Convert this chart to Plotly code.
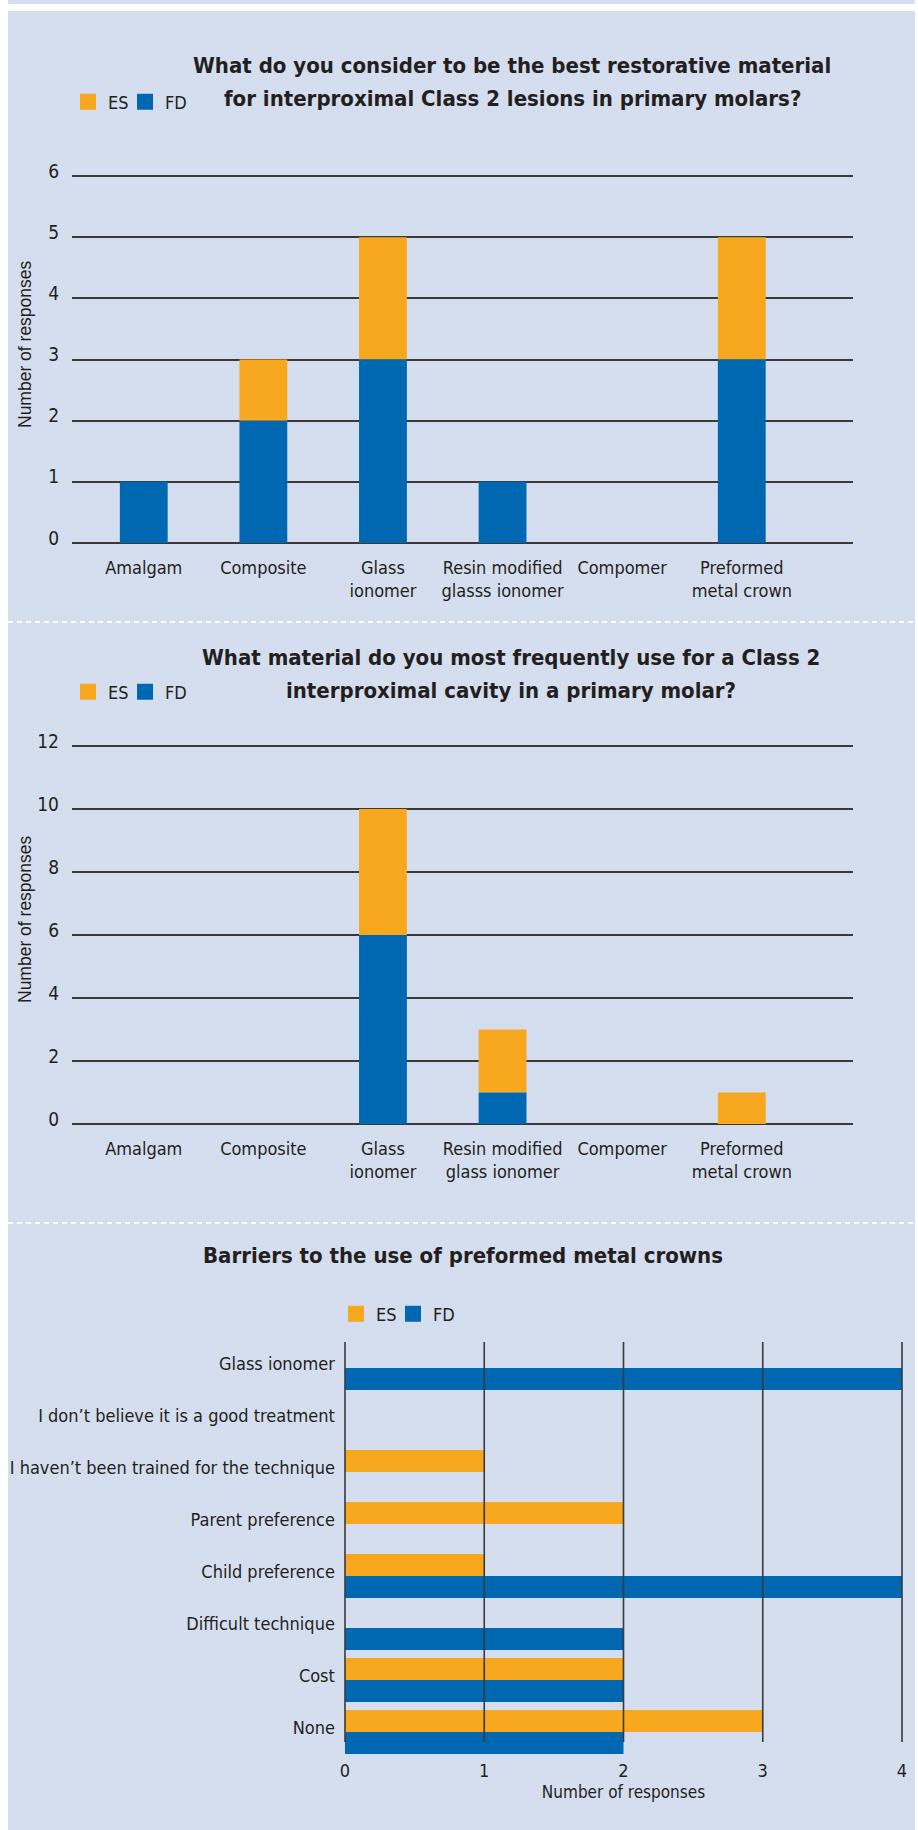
import plotly.graph_objects as go

# ---------------- data ----------------
materials_best = ["Amalgam", "Composite", "Glass<br>ionomer", "Resin modified<br>glasss ionomer",
                  "Compomer", "Preformed<br>metal crown"]
es_best = [0, 1, 2, 0, 0, 2]
fd_best = [1, 2, 3, 1, 0, 3]

materials_freq = ["Amalgam", "Composite", "Glass<br>ionomer", "Resin modified<br>glass ionomer",
                  "Compomer", "Preformed<br>metal crown"]
es_freq = [0, 0, 4, 2, 0, 1]
fd_freq = [0, 0, 6, 1, 0, 0]

barriers = ["Glass ionomer", "I don\u2019t believe it is a good treatment",
            "I haven\u2019t been trained for the technique", "Parent preference",
            "Child preference", "Difficult technique", "Cost", "None"]
es_barriers = [0, 0, 1, 2, 1, 0, 2, 3]
fd_barriers = [4, 0, 0, 0, 4, 2, 2, 2]
barrier_ticks = [0, 1, 2, 3, 4]

series_names = ["ES", "FD"]

title_best = ["What do you consider to be the best restorative material",
              "for interproximal Class 2 lesions in primary molars?"]
title_freq = ["What material do you most frequently use for a Class 2",
              "interproximal cavity in a primary molar?"]
title_barriers = "Barriers to the use of preformed metal crowns"

# ---------------- styling ----------------
W, H = 918, 1830
def fx(x): return x / W
def fy(y): return 1 - y / H

ORANGE = "#F7A81E"
BLUE = "#0068B0"
PANEL = "#D5DEEF"
GRID = "#3A3A3A"
TXT = "#231F20"
NARROW = "DejaVu Sans Condensed, Liberation Sans Narrow, sans-serif"
REG = "Liberation Sans, Arial, sans-serif"
COLORS = [ORANGE, BLUE]

fig = go.Figure()

# chart 1 (stacked via base)
fig.add_trace(go.Bar(x=materials_best, y=es_best, base=fd_best, name="ES", marker_color=ORANGE,
                     width=0.4, xaxis="x", yaxis="y", showlegend=False))
fig.add_trace(go.Bar(x=materials_best, y=fd_best, name="FD", marker_color=BLUE,
                     width=0.4, xaxis="x", yaxis="y", showlegend=False))
# chart 2
fig.add_trace(go.Bar(x=materials_freq, y=es_freq, base=fd_freq, name="ES", marker_color=ORANGE,
                     width=0.4, xaxis="x2", yaxis="y2", showlegend=False))
fig.add_trace(go.Bar(x=materials_freq, y=fd_freq, name="FD", marker_color=BLUE,
                     width=0.4, xaxis="x2", yaxis="y2", showlegend=False))
# chart 3 (grouped horizontal)
bw = 0.423
fig.add_trace(go.Bar(y=barriers, x=es_barriers, orientation="h", name="ES", marker_color=ORANGE,
                     width=bw, offset=-bw, xaxis="x3", yaxis="y3", showlegend=False))
fig.add_trace(go.Bar(y=barriers, x=fd_barriers, orientation="h", name="FD", marker_color=BLUE,
                     width=bw, offset=0, xaxis="x3", yaxis="y3", showlegend=False))
fig.update_traces(marker_line_width=0, hoverinfo="skip")

# legend entries (one small legend per key so each key sits where the reference has it)
legend_slots = [("legend", "x", "y"), ("legend2", "x", "y"),
                ("legend3", "x2", "y2"), ("legend4", "x2", "y2"),
                ("legend5", "x3", "y3"), ("legend6", "x3", "y3")]
for i, (lg, xa, ya) in enumerate(legend_slots):
    k = i % 2
    fig.add_trace(go.Bar(x=[None], y=[None], name=series_names[k], marker_color=COLORS[k],
                         marker_line=dict(color=COLORS[k], width=4), xaxis=xa, yaxis=ya,
                         legend=lg, showlegend=True, hoverinfo="skip"))

tickfont = dict(family=NARROW, size=18, color=TXT)

def vaxis(dom_px, rng, dtick):
    return dict(domain=[fy(dom_px[0]), fy(dom_px[1])], range=rng, dtick=dtick, automargin=False,
                showgrid=True, gridcolor=GRID, gridwidth=2, zeroline=True,
                zerolinecolor=GRID, zerolinewidth=2, showline=False, ticks="",
                tickfont=dict(family=NARROW, size=19, color=TXT),
                ticklabelstandoff=12, ticklabelshift=-5, fixedrange=True)

def caxis(anchor):
    return dict(domain=[fx(72), fx(853)], range=[-0.6, 5.93], type="category", anchor=anchor,
                automargin=False, tickangle=0,
                showgrid=False, zeroline=False, showline=False, ticks="", tickfont=tickfont,
                ticklabelstandoff=10, fixedrange=True)

# pixel geometry: chart1 0->543, 6->176 ; chart2 0->1124, 12->746
u1 = (543 - 176) / 6
u2 = (1124 - 746) / 12
fig.update_layout(
    template="none",
    xaxis=caxis("y"),
    yaxis=vaxis((543 + 0.03 * u1, 176 - 0.03 * u1), [-0.03, 6.03], 1),
    xaxis2=caxis("y2"),
    yaxis2=vaxis((1124 + 0.06 * u2, 746 - 0.06 * u2), [-0.06, 12.06], 2),
    xaxis3=dict(domain=[fx(342.9), fx(904.1)], range=[-0.015, 4.015], anchor="y3", automargin=False,
                tickvals=barrier_ticks, showgrid=False, zeroline=False, showline=False, ticks="",
                tickfont=tickfont, ticklabelstandoff=0,
                title=dict(text="Number of responses", font=dict(family=NARROW, size=17, color=TXT),
                           standoff=6), fixedrange=True),
    yaxis3=dict(domain=[fy(1758), fy(1342)], type="category", categoryarray=barriers,
                range=[7.5, -0.5], anchor="x3", automargin=False, showgrid=False, zeroline=False,
                showline=False, ticks="", tickfont=tickfont, ticklabelstandoff=7, ticklabelshift=4,
                fixedrange=True),
    barmode="overlay",
    width=W, height=H,
    margin=dict(l=0, r=0, t=0, b=0),
    paper_bgcolor="white",
    plot_bgcolor="rgba(0,0,0,0)",
    font=dict(family=NARROW, color=TXT),
)

legend_common = dict(orientation="h", xanchor="left", yanchor="middle", bgcolor="rgba(0,0,0,0)",
                     font=dict(family=NARROW, size=18, color=TXT), itemwidth=30,
                     itemclick=False, itemdoubleclick=False)
fig.update_layout(
    legend=dict(x=fx(68), y=fy(102), **legend_common),
    legend2=dict(x=fx(125), y=fy(102), **legend_common),
    legend3=dict(x=fx(68), y=fy(692), **legend_common),
    legend4=dict(x=fx(125), y=fy(692), **legend_common),
    legend5=dict(x=fx(336), y=fy(1314), **legend_common),
    legend6=dict(x=fx(393), y=fy(1314), **legend_common),
)

shapes = [
    dict(type="rect", xref="paper", yref="paper", x0=fx(8), x1=fx(915), y0=fy(1830), y1=fy(11),
         fillcolor=PANEL, line_width=0, layer="below"),
    dict(type="rect", xref="paper", yref="paper", x0=fx(8), x1=fx(915), y0=fy(4), y1=fy(0),
         fillcolor=PANEL, line_width=0, layer="below"),
]
for ysep in (622, 1223):
    shapes.append(dict(type="line", xref="paper", yref="paper", x0=fx(8), x1=fx(915),
                       y0=fy(ysep), y1=fy(ysep), line=dict(color="white", width=2, dash="5px,4px"),
                       layer="below"))
bottom_frac = (1758 - 1742) / (1758 - 1342)
for t in barrier_ticks:
    shapes.append(dict(type="line", xref="x3", yref="y3 domain", x0=t, x1=t, y0=bottom_frac, y1=1.0,
                       line=dict(color=GRID, width=1.6), layer="above"))
fig.update_layout(shapes=shapes)

title_font = dict(family=NARROW, size=22, color=TXT, weight="bold")
ann = [
    dict(text=title_best[0], x=fx(512), y=fy(66), font=title_font),
    dict(text=title_best[1], x=fx(512), y=fy(98), font=title_font),
    dict(text=title_freq[0], x=fx(511), y=fy(657), font=title_font),
    dict(text=title_freq[1], x=fx(511), y=fy(690), font=title_font),
    dict(text=title_barriers, x=fx(463), y=fy(1255), font=title_font),
    dict(text="Number of responses", x=fx(25), y=fy(344), textangle=-90,
         font=dict(family=REG, size=17.5, color=TXT)),
    dict(text="Number of responses", x=fx(25), y=fy(919), textangle=-90,
         font=dict(family=REG, size=17.5, color=TXT)),
]
for a in ann:
    a.update(xref="paper", yref="paper", xanchor="center", yanchor="middle", showarrow=False)
fig.update_layout(annotations=ann)

fig.write_html("out.html", config={"displayModeBar": False, "staticPlot": False},
               post_script="document.body.style.margin='0';document.body.style.overflow='hidden';")
